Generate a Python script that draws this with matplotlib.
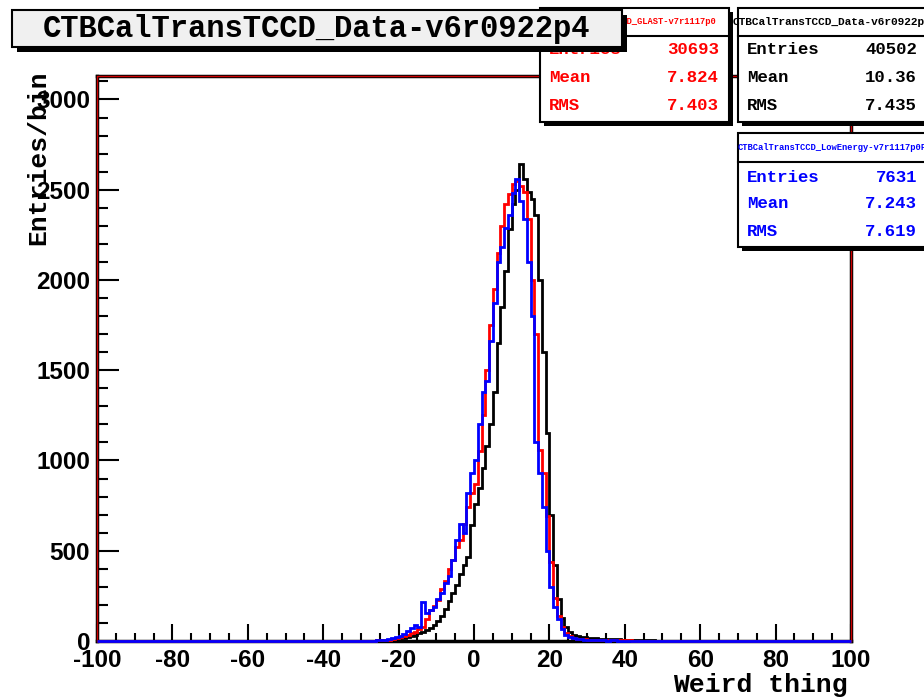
import numpy as np
import matplotlib
matplotlib.use('Agg')
import matplotlib.pyplot as plt
from matplotlib.patches import Rectangle

plt.rcParams['axes.unicode_minus'] = False

# ---------------------------------------------
# Data (bins of width 1, from -30 to 50)
binLow = -30
binHigh = 50

countsData = [0, 1, 1, 2, 2, 3, 4, 6, 8, 11,
              14, 18, 22, 28, 34, 42, 52, 60, 72, 90,
              112, 140, 180, 220, 265, 310, 370, 420, 464, 640,
              760, 850, 960, 1080, 1200, 1380, 1650, 1850, 2050, 2280,
              2420, 2500, 2640, 2560, 2490, 2450, 2360, 2000, 1600, 1150,
              700, 420, 230, 130, 80, 50, 35, 28, 23, 20,
              18, 16, 15, 13, 12, 11, 10, 10, 9, 8,
              7, 6, 5, 5, 4, 4, 3, 3, 2, 2]

countsGlast = [0, 1, 1, 2, 3, 4, 6, 8, 11, 15,
               20, 26, 33, 44, 52, 65, 80, 120, 170, 195,
               226, 290, 330, 400, 450, 519, 558, 650, 740, 818,
               870, 1050, 1250, 1500, 1750, 1950, 2150, 2300, 2420, 2475,
               2530, 2550, 2520, 2490, 2340, 2000, 1700, 1060, 930, 690,
               440, 240, 140, 80, 45, 30, 18, 12, 10, 9,
               8, 8, 7, 6, 6, 5, 5, 4, 4, 3,
               3, 3, 2, 2, 2, 1, 1, 1, 1, 0]

countsLowE = [0, 0, 1, 2, 3, 5, 8, 10, 14, 20,
              28, 40, 55, 70, 88, 75, 215, 155, 170, 190,
              230, 265, 320, 360, 450, 560, 650, 600, 820, 930,
              1000, 1200, 1380, 1440, 1660, 1870, 2100, 2180, 2290, 2360,
              2480, 2560, 2440, 2340, 2100, 1800, 1100, 930, 740, 500,
              300, 190, 120, 65, 35, 22, 15, 12, 10, 8,
              6, 5, 8, 4, 3, 2, 3, 4, 2, 2,
              1, 1, 1, 1, 0, 1, 0, 0, 0, 0]

titleText = 'CTBCalTransTCCD_Data-v6r0922p4'
xLabel = 'Weird thing'
yLabel = 'Entries/bin'

# stat boxes: name, entries, mean, rms, colour
statNames = ['CTBCalTransTCCD_GLAST-v7r1117p0',
             'CTBCalTransTCCD_Data-v6r0922p4',
             'CTBCalTransTCCD_LowEnergy-v7r1117p0F']
statEntries = ['30693', '40502', '7631']
statMeans = ['7.824', '10.36', '7.243']
statRms = ['7.403', '7.435', '7.619']
statColors = ['#ff0000', '#000000', '#0000ff']

# ---------------------------------------------
W, H = 924, 697
mono = 'Liberation Mono'
sans = 'Liberation Sans'


def fx(px):
    return px / W


def fy(py):
    return 1 - py / H


def fullHist(partial):
    # pad the read-off region with the empty bins of the -100..100 range
    left = np.zeros(binLow + 100)
    right = np.zeros(100 - binHigh)
    return np.concatenate([left, np.array(partial, dtype=float), right])


fig = plt.figure(figsize=(W / 100, H / 100), dpi=100)
ax = fig.add_axes([fx(97), fy(641), (851 - 97) / W, (641 - 76) / H])

edges = np.arange(-100, 101)
ax.stairs(fullHist(countsData), edges, color='black', lw=2, zorder=3, clip_on=False)
ax.stairs(fullHist(countsGlast), edges, color='#ff0000', lw=2, zorder=4, clip_on=False)
ax.stairs(fullHist(countsLowE), edges, color='#0000ff', lw=2, zorder=5, clip_on=False)

ax.set_xlim(-100, 100)
ax.set_ylim(0, 3130)

# ROOT-like frame: black outline with a red line on it
for s in ['top', 'bottom', 'left', 'right']:
    ax.spines[s].set_linewidth(2.5)
    ax.spines[s].set_color('black')
ax.plot([0, 0, 1, 1], [0, 1, 1, 0], color='#cc0000', lw=1,
        transform=ax.transAxes, clip_on=False, zorder=2.6)

ax.set_xticks(np.arange(-100, 101, 20))
ax.set_xticks(np.arange(-100, 101, 5), minor=True)
ax.set_yticks(np.arange(0, 3001, 500))
ax.set_yticks(np.arange(0, 3101, 100), minor=True)
ax.tick_params(axis='x', which='major', direction='in', length=12, width=1.5, pad=6,
               top=False, labelsize=17.5)
ax.tick_params(axis='x', which='minor', direction='in', length=6, width=1.5, top=False)
ax.tick_params(axis='y', which='major', direction='in', length=16, width=1.5, pad=5,
               right=False, labelsize=17.5)
ax.tick_params(axis='y', which='minor', direction='in', length=8, width=1.5, right=False)
for lab in ax.get_xticklabels() + ax.get_yticklabels():
    lab.set_fontfamily(sans)
    lab.set_fontweight('bold')

fig.text(fx(848), fy(685), xLabel, ha='right', va='center', fontsize=19,
         family=mono, fontweight='bold')
fig.text(fx(38), fy(70), yLabel, ha='center', va='top', rotation=90, fontsize=19,
         family=mono, fontweight='bold')


def drawBox(x0, y0, x1, y1, face, shadow=5, z=10):
    fig.add_artist(Rectangle((fx(x0 + shadow), fy(y1 + shadow)), fx(x1 - x0), (y1 - y0) / H,
                             transform=fig.transFigure, facecolor='black', edgecolor='black',
                             lw=0, zorder=z))
    fig.add_artist(Rectangle((fx(x0), fy(y1)), fx(x1 - x0), (y1 - y0) / H,
                             transform=fig.transFigure, facecolor=face, edgecolor='black',
                             lw=1.5, zorder=z + 0.1))


# stat boxes (red, black, blue)
boxPos = [(540, 8, 729, 122, 36), (738, 8, 926, 122, 36), (738, 133, 926, 247, 162)]
for i, (x0, y0, x1, y1, sep) in enumerate(boxPos):
    z = 10 + i
    drawBox(x0, y0, x1, y1, 'white', shadow=4, z=z)
    fig.add_artist(plt.Line2D([fx(x0), fx(x1)], [fy(sep), fy(sep)], color='black', lw=1.5,
                              transform=fig.transFigure, zorder=z + 0.2))
    hsize = 8 if i == 1 else 6.3
    fig.text(fx((x0 + x1) / 2), fy((y0 + sep) / 2), statNames[i], ha='center', va='center',
             fontsize=hsize, family=mono, fontweight='bold', color=statColors[i], zorder=z + 0.3)
    rows = [('Entries', statEntries[i]), ('Mean', statMeans[i]), ('RMS', statRms[i])]
    rowY = [sep + 14, sep + 42, sep + 70] if i < 2 else [sep + 15, sep + 41, sep + 69]
    for (name, val), ry in zip(rows, rowY):
        fig.text(fx(x0 + 9), fy(ry), name, ha='left', va='center', fontsize=12.5,
                 family=mono, fontweight='bold', color=statColors[i], zorder=z + 0.3)
        fig.text(fx(x0 + 179), fy(ry), val, ha='right', va='center', fontsize=12.5,
                 family=mono, fontweight='bold', color=statColors[i], zorder=z + 0.3)

# title box on top of everything
drawBox(12, 10, 622, 47, '#f0f0f0', shadow=5, z=20)
fig.text(fx(317), fy(29), titleText, ha='center', va='center', fontsize=22,
         family=mono, fontweight='bold', zorder=21)

fig.savefig('out.png', dpi=100)
